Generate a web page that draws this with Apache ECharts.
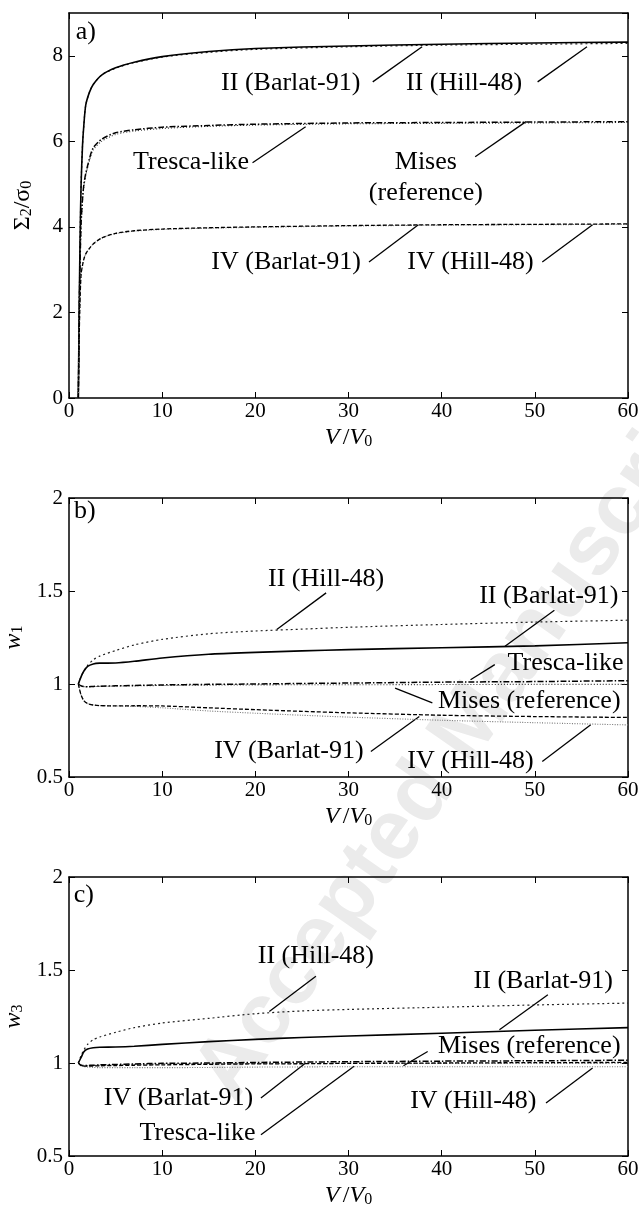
<!DOCTYPE html>
<html>
<head>
<meta charset="utf-8">
<script src="https://cdn.jsdelivr.net/npm/echarts@6.0.0/dist/echarts.min.js"></script>
<style>
  html, body { margin: 0; padding: 0; background: #fff; }
  #chart { width: 639px; height: 1210px; }
</style>
</head>
<body>
<div id="chart"></div>
<script>
// ---- data ----
// panel a) Sigma_2/sigma_0 against V/V0
const xsA = [1, 1.1, 1.2, 1.3, 1.45, 1.6, 1.8, 2.2, 2.6, 3.5, 5, 7, 10, 15, 20, 30, 40, 50, 60];
const aIIBarlat = [0, 2.2, 3.9, 5.0, 5.9, 6.4, 6.85, 7.15, 7.33, 7.55, 7.72, 7.85, 7.98, 8.1, 8.17, 8.23, 8.27, 8.3, 8.32];
const aIIHill   = [0, 2.2, 3.9, 5.0, 5.9, 6.4, 6.85, 7.15, 7.33, 7.55, 7.71, 7.84, 7.97, 8.08, 8.15, 8.21, 8.25, 8.27, 8.29];
const aTresca   = [0, 2.0, 3.3, 4.1, 4.65, 5.0, 5.25, 5.6, 5.85, 6.05, 6.2, 6.27, 6.33, 6.37, 6.4, 6.43, 6.44, 6.45, 6.46];
const aMises    = [0, 1.9, 3.2, 4.0, 4.6, 4.95, 5.2, 5.55, 5.8, 6.0, 6.16, 6.24, 6.3, 6.35, 6.38, 6.41, 6.42, 6.43, 6.44];
const aIVBarlat = [0, 1.5, 2.4, 2.9, 3.1, 3.25, 3.37, 3.5, 3.6, 3.74, 3.85, 3.91, 3.95, 3.98, 4.0, 4.03, 4.05, 4.06, 4.07];
const aIVHill   = [0, 1.5, 2.4, 2.9, 3.1, 3.25, 3.37, 3.5, 3.6, 3.74, 3.84, 3.9, 3.94, 3.97, 3.99, 4.02, 4.04, 4.05, 4.06];

// panels b) w1 and c) w3
const xsBC = [1, 1.3, 1.6, 2, 2.6, 3.3, 5, 7, 10, 15, 20, 25, 30, 40, 50, 60];
const bIIHill   = [1, 1.04, 1.07, 1.1, 1.13, 1.15, 1.18, 1.21, 1.24, 1.27, 1.285, 1.295, 1.305, 1.32, 1.333, 1.343];
const bIIBarlat = [1, 1.04, 1.07, 1.095, 1.108, 1.112, 1.113, 1.122, 1.14, 1.16, 1.17, 1.178, 1.185, 1.195, 1.205, 1.222];
const bTresca   = [1, 0.99, 0.986, 0.985, 0.987, 0.988, 0.99, 0.992, 0.995, 0.998, 1.0, 1.003, 1.005, 1.01, 1.013, 1.018];
const bMises    = [1, 0.99, 0.986, 0.985, 0.986, 0.987, 0.989, 0.99, 0.992, 0.994, 0.995, 0.996, 0.996, 0.997, 0.998, 0.998];
const bIVBarlat = [1, 0.94, 0.91, 0.895, 0.887, 0.884, 0.882, 0.883, 0.882, 0.872, 0.862, 0.853, 0.845, 0.832, 0.825, 0.82];
const bIVHill   = [1, 0.94, 0.91, 0.895, 0.887, 0.884, 0.882, 0.88, 0.872, 0.855, 0.843, 0.832, 0.822, 0.805, 0.792, 0.78];

const cIIHill   = [1, 1.04, 1.07, 1.1, 1.125, 1.14, 1.165, 1.19, 1.215, 1.24, 1.265, 1.28, 1.288, 1.3, 1.312, 1.322];
const cIIBarlat = [1, 1.03, 1.06, 1.075, 1.082, 1.085, 1.086, 1.09, 1.1, 1.115, 1.127, 1.137, 1.145, 1.16, 1.176, 1.19];
const cTresca   = [1, 0.988, 0.986, 0.987, 0.988, 0.99, 0.992, 0.995, 0.998, 1.0, 1.003, 1.005, 1.007, 1.01, 1.012, 1.015];
const cMises    = [1, 0.988, 0.985, 0.986, 0.987, 0.988, 0.99, 0.992, 0.995, 0.996, 0.997, 0.997, 0.998, 0.998, 0.999, 0.999];
const cIVBarlat = [1, 0.986, 0.983, 0.983, 0.984, 0.985, 0.986, 0.988, 0.99, 0.993, 0.995, 0.996, 0.998, 1.0, 1.002, 1.003];
const cIVHill   = [1, 0.985, 0.98, 0.978, 0.976, 0.975, 0.975, 0.975, 0.975, 0.976, 0.978, 0.979, 0.98, 0.98, 0.98, 0.98];

// annotations: [text, x, y] and leader lines [x1, y1, x2, y2], in data units
const labelsA = [
  ['a)', 1.8, 8.56], ['II (Barlat-91)', 23.8, 7.37], ['II (Hill-48)', 42.4, 7.37],
  ['Tresca-like', 13.1, 5.52], ['Mises\n(reference)', 38.3, 5.16],
  ['IV (Barlat-91)', 23.3, 3.18], ['IV (Hill-48)', 43.1, 3.18]
];
const leadersA = [
  [32.6, 7.39, 37.9, 8.21], [50.3, 7.39, 55.6, 8.21], [19.7, 5.5, 25.4, 6.34],
  [43.6, 5.64, 49.05, 6.46], [32.2, 3.18, 37.5, 4.05], [50.8, 3.18, 56.2, 4.05]
];
const labelsB = [
  ['b)', 1.7, 1.928], ['II (Hill-48)', 27.6, 1.562], ['II (Barlat-91)', 51.5, 1.472],
  ['Tresca-like', 53.3, 1.113], ['Mises (reference)', 49.4, 0.906],
  ['IV (Barlat-91)', 23.6, 0.637], ['IV (Hill-48)', 43.1, 0.583]
];
const leadersB = [
  [27.6, 1.49, 22.3, 1.293], [52.1, 1.397, 46.8, 1.203], [45.7, 1.104, 43.1, 1.023],
  [39.0, 0.898, 35.0, 0.978], [32.4, 0.637, 37.6, 0.825], [50.8, 0.583, 56.0, 0.781]
];
const labelsC = [
  ['c)', 1.6, 1.9], ['II (Hill-48)', 26.5, 1.573], ['II (Barlat-91)', 50.9, 1.439],
  ['Mises (reference)', 49.4, 1.089], ['IV (Barlat-91)', 11.75, 0.812],
  ['Tresca-like', 13.8, 0.624], ['IV (Hill-48)', 43.4, 0.794]
];
const leadersC = [
  [26.5, 1.466, 21.5, 1.277], [51.4, 1.367, 46.2, 1.179], [38.5, 1.062, 35.9, 0.985],
  [20.6, 0.812, 25.4, 1.0], [20.6, 0.614, 30.6, 0.982], [51.2, 0.785, 56.2, 0.973]
];

// ---- styling ----
const FONT = 'Liberation Serif';
const lineStyles = {
  IIBarlat: { type: 'solid', width: 1.6, color: '#000' },
  IIHill:   { type: [2, 3], width: 1.2, color: '#222' },
  Tresca:   { type: [6, 2, 1.5, 2], width: 1.5, color: '#000' },
  Mises:    { type: [1, 2], width: 1.1, color: '#333' },
  IVBarlat: { type: [4, 2], width: 1.3, color: '#000' },
  IVHill:   { type: [1, 1.5], width: 1.1, color: '#777' }
};
const nameRich = {
  n: { fontFamily: FONT, fontSize: 24, color: '#000', lineHeight: 24, verticalAlign: 'top' },
  i: { fontFamily: FONT, fontSize: 24, color: '#000', lineHeight: 24, verticalAlign: 'top', fontStyle: 'italic' },
  s: { fontFamily: FONT, fontSize: 16, color: '#000', lineHeight: 16, verticalAlign: 'bottom', padding: [11, 0, 0, 0] }
};

function zip(xs, ys) { return xs.map((x, k) => [x, ys[k]]); }

function xAxes(gi) {
  const common = {
    type: 'value', gridIndex: gi, min: 0, max: 60, interval: 10,
    axisLine: { onZero: false, lineStyle: { color: '#000', width: 1.5 } },
    axisTick: { inside: true, length: 6, lineStyle: { color: '#000', width: 1 } },
    splitLine: { show: false }
  };
  return [
    Object.assign({}, common, {
      position: 'bottom',
      name: '{i|V} {n|/}{i|V}{s|0}', nameLocation: 'middle', nameGap: 28,
      nameTextStyle: { rich: nameRich },
      axisLabel: { fontFamily: FONT, fontSize: 21, color: '#000', margin: 3 }
    }),
    Object.assign({}, common, { position: 'top', axisLabel: { show: false } })
  ];
}

function yAxes(gi, min, max, interval, name, gap) {
  const common = {
    type: 'value', gridIndex: gi, min: min, max: max, interval: interval,
    axisLine: { onZero: false, lineStyle: { color: '#000', width: 1.5 } },
    axisTick: { inside: true, length: 6, lineStyle: { color: '#000', width: 1 } },
    splitLine: { show: false }
  };
  return [
    Object.assign({}, common, {
      position: 'left',
      name: name, nameLocation: 'middle', nameGap: gap,
      nameTextStyle: { rich: nameRich },
      axisLabel: { fontFamily: FONT, fontSize: 21, color: '#000', margin: 6, showMaxLabel: gi !== 0 }
    }),
    Object.assign({}, common, { position: 'right', axisLabel: { show: false } })
  ];
}

function curve(gi, xs, ys, key) {
  return {
    type: 'line', xAxisIndex: gi * 2, yAxisIndex: gi * 2,
    data: zip(xs, ys), showSymbol: false, symbol: 'none', smooth: 0.25,
    lineStyle: lineStyles[key], silent: true
  };
}

function notes(gi, labels, leaders) {
  return [
    {
      type: 'lines', coordinateSystem: 'cartesian2d', xAxisIndex: gi * 2, yAxisIndex: gi * 2,
      data: leaders.map(l => ({ coords: [[l[0], l[1]], [l[2], l[3]]] })),
      lineStyle: { color: '#000', width: 1.3, opacity: 1, curveness: 0 },
      silent: true, z: 3
    },
    {
      type: 'scatter', xAxisIndex: gi * 2, yAxisIndex: gi * 2,
      symbol: 'circle', symbolSize: 0.01, itemStyle: { color: '#fff', opacity: 1 }, clip: false,
      data: labels.map(l => ({ name: l[0], value: [l[1], l[2]] })),
      label: {
        show: true, position: 'inside', formatter: '{b}', opacity: 1,
        fontFamily: FONT, fontSize: 26, color: '#000', lineHeight: 31, align: 'center',
        textBorderWidth: 0, textBorderColor: 'transparent'
      },
      labelLayout: { hideOverlap: false },
      silent: true, z: 4
    }
  ];
}

const chart = echarts.init(document.getElementById('chart'));
const gridBase = { left: 69, right: 11, outerBoundsMode: 'none', containLabel: false };
const option = {
  animation: false,
  backgroundColor: '#fff',
  graphic: [{
    type: 'text', x: 215, y: 1090, rotation: 55 * Math.PI / 180, z: -10, silent: true,
    style: {
      text: 'Accepted Manuscript', fontFamily: 'Liberation Sans',
      fontSize: 86, fontWeight: 'bold', fill: '#ebebeb', align: 'left', verticalAlign: 'middle'
    }
  }],
  grid: [
    Object.assign({ top: 13, height: 385 }, gridBase),
    Object.assign({ top: 498, height: 279 }, gridBase),
    Object.assign({ top: 877, height: 279 }, gridBase)
  ],
  xAxis: [].concat(xAxes(0), xAxes(1), xAxes(2)),
  yAxis: [].concat(
    yAxes(0, 0, 9, 2, '{n|Σ}{s|2}{n|/σ}{s|0}', 34),
    yAxes(1, 0.5, 2, 0.5, '{i|w}{s|1}', 41),
    yAxes(2, 0.5, 2, 0.5, '{i|w}{s|3}', 41)
  ),
  series: [].concat(
    curve(0, xsA, aIIHill, 'IIHill'), curve(0, xsA, aIIBarlat, 'IIBarlat'),
    curve(0, xsA, aMises, 'Mises'), curve(0, xsA, aTresca, 'Tresca'),
    curve(0, xsA, aIVHill, 'IVHill'), curve(0, xsA, aIVBarlat, 'IVBarlat'),
    notes(0, labelsA, leadersA),
    curve(1, xsBC, bIIHill, 'IIHill'), curve(1, xsBC, bIIBarlat, 'IIBarlat'),
    curve(1, xsBC, bMises, 'Mises'), curve(1, xsBC, bTresca, 'Tresca'),
    curve(1, xsBC, bIVHill, 'IVHill'), curve(1, xsBC, bIVBarlat, 'IVBarlat'),
    notes(1, labelsB, leadersB),
    curve(2, xsBC, cIIHill, 'IIHill'), curve(2, xsBC, cIIBarlat, 'IIBarlat'),
    curve(2, xsBC, cMises, 'Mises'), curve(2, xsBC, cTresca, 'Tresca'),
    curve(2, xsBC, cIVHill, 'IVHill'), curve(2, xsBC, cIVBarlat, 'IVBarlat'),
    notes(2, labelsC, leadersC)
  )
};
chart.setOption(option);
window.addEventListener('resize', chart.resize);
</script>
</body>
</html>
